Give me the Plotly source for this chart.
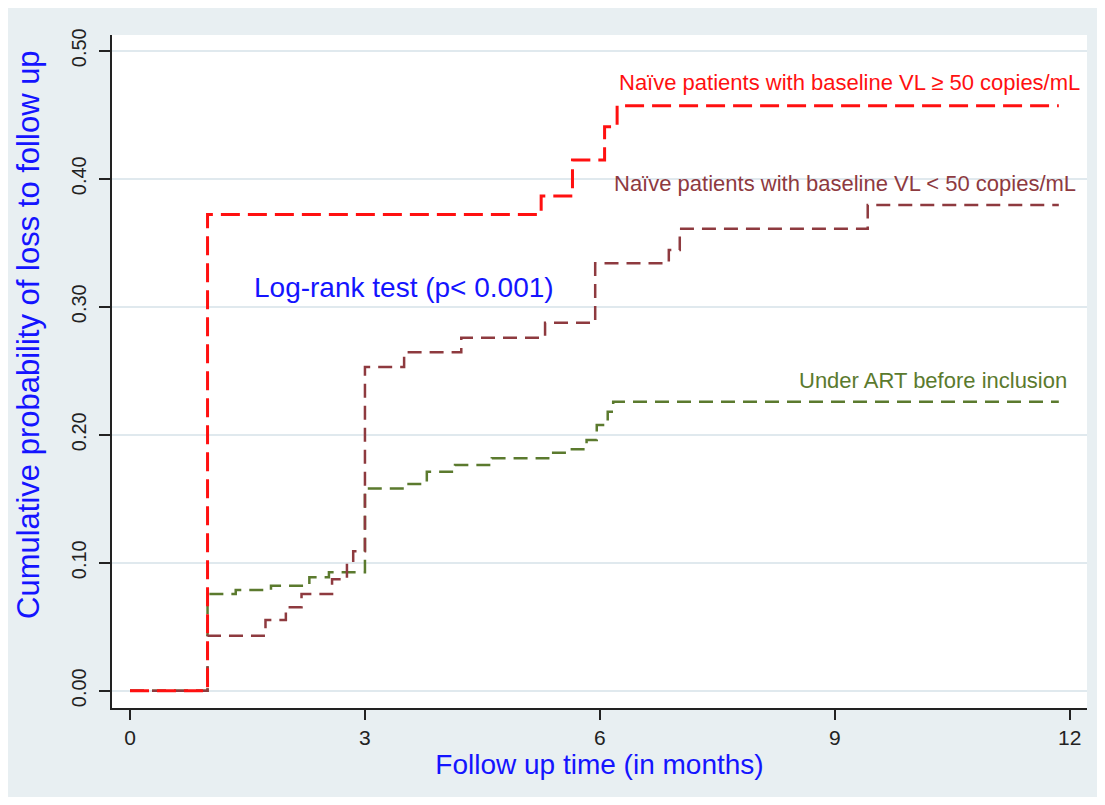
import plotly.graph_objects as go

# Naïve patients, baseline VL >= 50 copies/mL
red_t = [0, 0.99, 5.25, 5.65, 6.06, 6.22, 11.86]
red_p = [0.0, 0.372, 0.3865, 0.4146, 0.4406, 0.457, 0.457]

# Naïve patients, baseline VL < 50 copies/mL
brown_t = [0, 0.99, 1.73, 1.99, 2.19, 2.58, 2.77, 2.85, 3.0, 3.5, 4.23, 5.3, 5.94, 6.88, 7.02, 9.42, 11.86]
brown_p = [0.0, 0.043, 0.0552, 0.0652, 0.0755, 0.087, 0.0995, 0.109, 0.253, 0.2644, 0.2758, 0.2875, 0.334, 0.3443, 0.361, 0.3795, 0.3795]

# Under ART before inclusion
green_t = [0, 0.99, 1.35, 1.8, 2.29, 2.54, 3.0, 3.51, 3.79, 4.15, 4.62, 5.34, 5.6, 5.83, 5.96, 6.1, 6.17, 11.86]
green_p = [0.0, 0.0755, 0.0787, 0.082, 0.0886, 0.0925, 0.158, 0.1615, 0.171, 0.1763, 0.1816, 0.186, 0.1886, 0.1959, 0.2076, 0.218, 0.2258, 0.2258]

x_ticks = [0, 3, 6, 9, 12]
y_ticks = [0.0, 0.1, 0.2, 0.3, 0.4, 0.5]
y_ticklabels = ["0.00", "0.10", "0.20", "0.30", "0.40", "0.50"]

RED = "#FF1010"
BROWN = "#8E3A3F"
GREEN = "#5B7A2E"
BLUE = "#1414FF"
BG = "#E8EFF2"
GRID = "#E0E9EE"
FONT = "Liberation Sans, Arial, sans-serif"

fig = go.Figure()
fig.add_trace(go.Scatter(x=green_t, y=green_p, mode="lines", line_shape="hv",
                         line=dict(color=GREEN, width=2.5, dash="14px,8px"),
                         name="Under ART before inclusion", showlegend=False))
fig.add_trace(go.Scatter(x=brown_t, y=brown_p, mode="lines", line_shape="hv",
                         line=dict(color=BROWN, width=2.5, dash="14px,8px"),
                         name="Naïve patients with baseline VL < 50 copies/mL", showlegend=False))
fig.add_trace(go.Scatter(x=red_t, y=red_p, mode="lines", line_shape="hv",
                         line=dict(color=RED, width=3, dash="19px,8px"),
                         name="Naïve patients with baseline VL ≥ 50 copies/mL", showlegend=False))

# page body adds an 8px margin; figure sized to fit inside the window
W, H = 1089, 789
L, R, T, B = 104, 10, 27, 89
PW, PH = W - L - R, H - T - B

fig.add_annotation(x=6.22, y=0.4755, xref="x", yref="y", xanchor="left", yanchor="middle",
                   text="Naïve patients with baseline VL ≥ 50 copies/mL", showarrow=False,
                   font=dict(family=FONT, size=22, color=RED))
fig.add_annotation(x=6.15, y=0.396, xref="x", yref="y", xanchor="left", yanchor="middle",
                   text="Naïve patients with baseline VL < 50 copies/mL", showarrow=False,
                   font=dict(family=FONT, size=22, color=BROWN))
fig.add_annotation(x=8.52, y=0.2427, xref="x", yref="y", xanchor="left", yanchor="middle",
                   text="Under ART before inclusion", showarrow=False,
                   font=dict(family=FONT, size=22, color=GREEN))
fig.add_annotation(x=1.56, y=0.3154, xref="x", yref="y", xanchor="left", yanchor="middle",
                   text="Log-rank test (p< 0.001)", showarrow=False,
                   font=dict(family=FONT, size=28, color=BLUE))

# y-axis title (placed as in the reference, slightly above the axis centre)
fig.add_annotation(xref="paper", yref="paper", x=(20 - L) / PW, y=(PH + T - 327) / PH,
                   xanchor="center", yanchor="middle", textangle=-90,
                   text="Cumulative probability of loss to follow up", showarrow=False,
                   font=dict(family=FONT, size=31, color=BLUE))

fig.update_layout(
    width=W, height=H,
    margin=dict(l=L, r=R, t=T, b=B),
    paper_bgcolor=BG, plot_bgcolor="white",
    font=dict(family=FONT, color="#222222"),
    showlegend=False,
    xaxis=dict(range=[-0.23, 12.22], tickvals=x_ticks, ticktext=[str(v) for v in x_ticks],
               ticks="outside", ticklen=10, tickwidth=1.5, tickcolor="#222222",
               showline=True, linecolor="#222222", linewidth=1.5,
               showgrid=False, zeroline=False,
               tickfont=dict(family=FONT, size=21, color="#222222"),
               title=dict(text="Follow up time (in months)", standoff=3,
                          font=dict(family=FONT, size=28, color=BLUE))),
    yaxis=dict(range=[-0.0135, 0.5123], tickvals=y_ticks, ticktext=y_ticklabels,
               tickangle=-90, ticklabelstandoff=5,
               ticks="outside", ticklen=11, tickwidth=1.5, tickcolor="#222222",
               showline=True, linecolor="#222222", linewidth=1.5,
               showgrid=True, gridcolor=GRID, gridwidth=1.5, zeroline=False,
               tickfont=dict(family=FONT, size=20, color="#222222")),
)

fig.write_html("out.html")
